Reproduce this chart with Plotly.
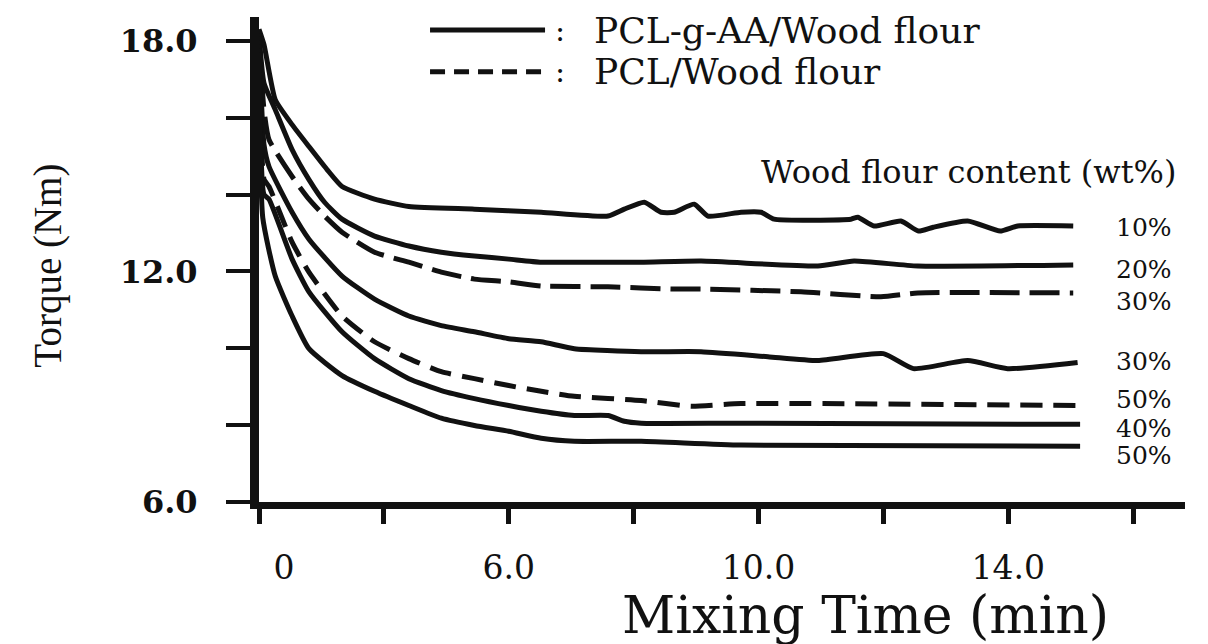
import plotly.graph_objects as go

# ---------------- data (mixing time in min, torque in Nm) ----------------
t_g10 = [2.0, 2.08, 2.26, 2.53, 2.80, 3.09, 3.33, 3.85, 4.40, 5.45, 6.52, 7.59, 7.85, 8.17, 8.44, 8.65, 8.97,
         9.19, 9.72, 10.04, 10.25, 11.48, 11.59, 11.85, 12.28, 12.56, 12.80, 13.35, 13.87, 14.15, 15.04]
tq_g10 = [18.3, 17.9, 16.47, 15.82, 15.25, 14.65, 14.21, 13.88, 13.69, 13.62, 13.54, 13.44, 13.62, 13.80, 13.54, 13.54, 13.75,
          13.44, 13.54, 13.54, 13.36, 13.36, 13.41, 13.18, 13.31, 13.05, 13.15, 13.31, 13.05, 13.18, 13.18]

t_g20 = [2.0, 2.08, 2.26, 2.53, 2.80, 3.05, 3.33, 3.85, 4.40, 4.92, 5.45, 6.00, 6.52, 7.05, 8.12, 9.08, 10.95, 11.53, 12.55, 15.04]
tq_g20 = [18.2, 16.9, 16.21, 15.17, 14.39, 13.80, 13.36, 12.92, 12.66, 12.50, 12.40, 12.32, 12.24, 12.24, 12.24, 12.27, 12.14, 12.27, 12.14, 12.17]

t_p30 = [2.0, 2.08, 2.16, 2.53, 2.80, 3.05, 3.33, 3.85, 4.40, 4.92, 5.45, 6.00, 6.52, 7.59, 8.65, 9.08, 10.68, 11.96, 12.55, 15.04]
tq_p30 = [18.1, 16.2, 15.43, 14.47, 13.88, 13.44, 13.02, 12.50, 12.24, 11.98, 11.80, 11.73, 11.62, 11.60, 11.54, 11.54, 11.47, 11.34, 11.44, 11.44]

t_g30 = [2.0, 2.08, 2.16, 2.53, 2.80, 3.33, 3.85, 4.40, 4.92, 5.45, 6.00, 6.52, 7.05, 8.12, 9.08, 10.15, 10.95, 12.00, 12.48, 13.35, 13.99, 15.11]
tq_g30 = [18.0, 15.3, 14.73, 13.54, 12.84, 11.88, 11.28, 10.84, 10.59, 10.43, 10.25, 10.17, 9.99, 9.91, 9.91, 9.78, 9.68, 9.86, 9.47, 9.68, 9.47, 9.63]

t_p50 = [2.0, 2.08, 2.16, 2.53, 2.80, 3.33, 3.85, 4.40, 4.92, 5.45, 6.00, 6.52, 7.05, 8.12, 8.92, 9.72, 15.15]
tq_p50 = [17.9, 14.4, 14.21, 12.76, 11.98, 10.84, 10.17, 9.73, 9.39, 9.21, 9.03, 8.88, 8.75, 8.64, 8.49, 8.56, 8.51]

t_g40 = [2.0, 2.08, 2.16, 2.53, 2.80, 3.33, 3.85, 4.40, 4.92, 5.45, 6.00, 6.52, 7.05, 7.59, 7.85, 8.12, 9.72, 15.15]
tq_g40 = [17.8, 14.0, 13.88, 12.32, 11.47, 10.43, 9.73, 9.21, 8.90, 8.69, 8.51, 8.36, 8.25, 8.25, 8.10, 8.05, 8.05, 8.02]

t_g50 = [2.0, 2.06, 2.26, 2.53, 2.80, 3.33, 3.85, 4.40, 4.92, 5.45, 6.00, 6.52, 7.05, 8.12, 9.72, 15.15]
tq_g50 = [17.7, 13.4, 11.88, 10.84, 9.99, 9.29, 8.88, 8.51, 8.18, 7.99, 7.84, 7.66, 7.58, 7.58, 7.48, 7.45]

# curve end labels (wood flour content) and their positions
content_labels = ["10%", "20%", "30%", "30%", "50%", "40%", "50%"]
label_y = [13.15, 12.06, 11.21, 9.65, 8.66, 7.90, 7.22]
label_x = 16.18

legend_names = ["PCL-g-AA/Wood flour", "PCL/Wood flour"]

# tick marks (every 2 min) and tick labels (the "0" label sits a little right of its tick)
x_tickvals = [2, 4, 6, 8, 10, 12, 14, 16]
x_labelvals = [2.4, 6, 10, 14]
x_labeltext = ["0", "6.0", "10.0", "14.0"]
y_tickvals = [6, 8, 10, 12, 14, 16, 18]
y_ticktext = ["6.0", "", "", "12.0", "", "", "18.0"]

# ---------------- figure ----------------
fig = go.Figure()
series = [
    (t_g10, tq_g10, "solid"),
    (t_g20, tq_g20, "solid"),
    (t_p30, tq_p30, "30px,10px"),
    (t_g30, tq_g30, "solid"),
    (t_p50, tq_p50, "22px,11px"),
    (t_g40, tq_g40, "solid"),
    (t_g50, tq_g50, "solid"),
]
for x, y, d in series:
    fig.add_trace(go.Scatter(x=x, y=y, mode="lines", showlegend=False, hoverinfo="skip",
                             line=dict(color="#111111", width=5, dash=d, shape="spline", smoothing=0.5)))
# invisible trace that carries the label axis
fig.add_trace(go.Scatter(x=[x_labelvals[0]], y=[None], xaxis="x2", mode="lines", showlegend=False, hoverinfo="skip"))

serif = "Liberation Serif"
wide = "DejaVu Serif"

annotations = []
for txt, yy in zip(content_labels, label_y):
    annotations.append(dict(x=label_x, y=yy, xref="x", yref="y", text=txt, showarrow=False,
                            font=dict(family=wide, size=25, color="#111111"), xanchor="center", yanchor="middle"))
annotations.append(dict(x=13.36, y=14.58, xref="x", yref="y", text="Wood flour content (wt%)", showarrow=False,
                        font=dict(family=wide, size=32, color="#111111"), xanchor="center", yanchor="middle"))

# legend (sample lines drawn as shapes, texts as annotations)
leg_y = [0.973, 0.887]
leg_dash = ["solid", "15px,9px"]
shapes = []
for yy, d in zip(leg_y, leg_dash):
    shapes.append(dict(type="line", xref="paper", yref="paper", x0=0.1847, x1=0.3089, y0=yy, y1=yy,
                       line=dict(color="#111111", width=5, dash=d)))
for yy, name in zip(leg_y, legend_names):
    annotations.append(dict(x=0.325, y=yy, xref="paper", yref="paper", text=":", showarrow=False,
                            font=dict(family=wide, size=30, color="#111111"), xanchor="center", yanchor="middle"))
    annotations.append(dict(x=0.3596, y=yy, xref="paper", yref="paper", text=name, showarrow=False,
                            font=dict(family=wide, size=36, color="#111111"), xanchor="left", yanchor="middle"))

# axis titles
annotations.append(dict(x=-0.228, y=0.487, xref="paper", yref="paper", text="Torque (Nm)", showarrow=False,
                        textangle=-90, font=dict(family=serif, size=39, color="#111111"),
                        xanchor="center", yanchor="middle"))
annotations.append(dict(x=0.655, y=-0.232, xref="paper", yref="paper", text="Mixing Time (min)", showarrow=False,
                        font=dict(family=wide, size=52, color="#111111"), xanchor="center", yanchor="middle"))

fig.update_layout(
    width=1200, height=636,
    margin=dict(l=251, r=23, t=9, b=142),
    paper_bgcolor="white", plot_bgcolor="white",
    showlegend=False,
    shapes=shapes, annotations=annotations,
    xaxis=dict(range=[2, 16.83], tickvals=x_tickvals, showticklabels=False, ticks="outside",
               ticklen=15, tickwidth=5, tickcolor="#111111", showline=True, linewidth=7, linecolor="#111111",
               showgrid=False, zeroline=False),
    xaxis2=dict(range=[2, 16.83], overlaying="x", side="bottom", anchor="y", tickvals=x_labelvals,
                ticktext=x_labeltext, ticks="outside", ticklen=15, tickcolor="rgba(0,0,0,0)",
                showline=False, showgrid=False, zeroline=False, ticklabelstandoff=21,
                tickfont=dict(family=wide, size=33, color="#111111")),
    yaxis=dict(range=[6, 18.62], tickvals=y_tickvals, ticktext=y_ticktext, ticks="outside",
               ticklen=24, tickwidth=4, tickcolor="#111111", showline=True, linewidth=9, linecolor="#111111",
               showgrid=False, zeroline=False, ticklabelstandoff=22,
               tickfont=dict(family=wide, size=32, color="#111111", weight="bold")),
)

fig.write_html("out.html")
